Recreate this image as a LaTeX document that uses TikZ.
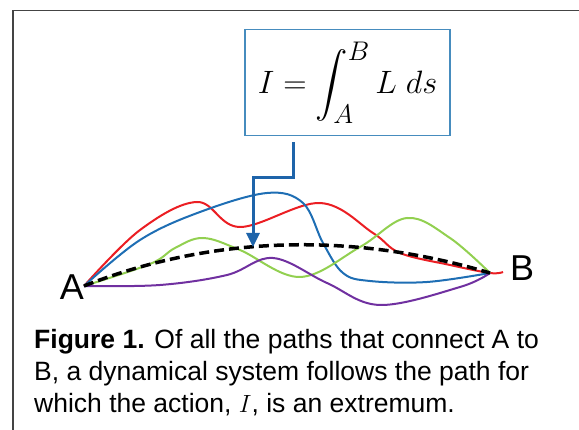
\documentclass[tikz,border=0pt]{standalone}
\usepackage{amsmath}
\usepackage{graphicx}
\usepackage{fontspec}
\setmainfont{Liberation Sans}
\usetikzlibrary{arrows.meta, positioning, calc}
\definecolor{framegray}{RGB}{68, 68, 68}
\definecolor{boxblue}{RGB}{70, 140, 190}
\definecolor{arrowblue}{RGB}{30, 100, 170}
\definecolor{pathred}{RGB}{235, 30, 35}
\definecolor{pathblue}{RGB}{30, 110, 180}
\definecolor{pathgreen}{RGB}{146, 208, 80}
\definecolor{pathpurple}{RGB}{112, 48, 160}
\tikzset{
    trial/.style={line width=2pt, line join=round},
    extremal/.style={black, line width=3.5pt, dash pattern=on 10pt off 5pt},
    formula/.style={rectangle, draw=boxblue, line width=1.2pt, minimum width=205pt, minimum height=106pt, inner sep=0pt, font=\fontsize{24.88}{30}\selectfont},
    pointer/.style={draw, arrowblue, line width=3pt, -{Triangle[width=13pt,length=14pt]}},
    endpoint/.style={font=\fontsize{36}{40}\selectfont, inner sep=0pt}
}

\begin{document}
\begin{tikzpicture}[x=1pt, y=-1pt]
    \useasboundingbox (0,0) rectangle (579,430);

    % --- FRAME ---
    \draw[framegray, line width=1.5pt] (12.8,430) -- (12.8,10.5) -- (579,10.5);

    % --- ACTION INTEGRAL ---
    \node[formula] (action) at (347.5,82.5) {\scalebox{1.3}{$\displaystyle I = \int_A^B L\;ds$}};

    % End points
    \coordinate (ptA) at (84,286);
    \coordinate (ptB) at (490,273);
    \node[endpoint, anchor=base east] (labA) at ([yshift=-14pt]ptA) {A};
    \node[endpoint, anchor=base west] (labB) at ([xshift=20pt,yshift=-8pt]ptB) {B};

    % --- TRIAL PATHS ---
    \draw[trial, pathred] plot[smooth, tension=0.6] coordinates {
        (84,286) (140,230) (197,202) (240,227) (320,203) (373,233) (400,253) (450,265) (490,273) (503,272)};
    \draw[trial, pathblue] plot[smooth, tension=0.6] coordinates {
        (84,286) (140,240) (200,212) (267,193) (303,203) (323,243) (343,273) (370,281) (427,282) (490,273)};
    \draw[trial, pathgreen] plot[smooth, tension=0.6] coordinates {
        (84,286) (150,264) (175,248) (203,238) (240,250) (300,277) (360,247) (407,218) (450,238) (490,273)};
    \draw[trial, pathpurple] plot[smooth, tension=0.6] coordinates {
        (84,286) (160,285) (227,275) (273,258) (327,283) (380,305) (460,287) (490,273)};

    % The extremal path
    \draw[extremal] (ptA) .. controls (200,240) and (340,228) .. (ptB);

    % Pointer to the extremal path
    \coordinate (tip) at (253,247);
    \draw[pointer] ([xshift=-54.5pt,yshift=-6pt]action.south) -- ++(0,35) -| (tip);

    % --- CAPTION ---
    \node[anchor=base west, align=left, inner sep=0pt, font=\fontsize{26.5}{32}\selectfont] (caption) at (34,413) {%
        \textbf{Figure 1.} Of all the paths that connect A to\\
        B, a dynamical system follows the path for\\
        which the action, $I$, is an extremum.};

\end{tikzpicture}
\end{document}
